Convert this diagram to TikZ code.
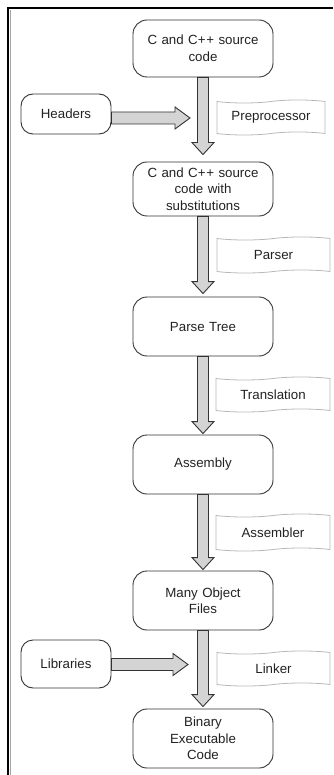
\documentclass[tikz,border=0pt]{standalone}
\usepackage{fontspec}
\setmainfont{Liberation Sans}
\usetikzlibrary{calc,shapes.symbols}
\definecolor{arrfill}{HTML}{D4D4D4}
\definecolor{edge}{HTML}{333333}
\definecolor{txt}{HTML}{222222}
\definecolor{tapeedge}{HTML}{B8B8B8}
\tikzset{
  mainbox/.style={draw=edge, line width=0.9pt, rounded corners=14pt, minimum width=140pt, minimum height=59pt, inner sep=0pt, align=center, text width=130pt, text=txt, font=\fontsize{13.3}{16.5}\selectfont},
  sidebox/.style={draw=edge, line width=0.9pt, rounded corners=12pt, minimum width=90pt, inner sep=0pt, align=center, text=txt, font=\fontsize{13.3}{16.5}\selectfont},
  stagelabel/.style={tape, draw=tapeedge, line width=0.8pt, tape bend top=in and out, tape bend bottom=in and out, tape bend height=3pt, minimum height=35pt, inner sep=0pt, text=txt, font=\fontsize{13.3}{16.5}\selectfont},
  blockarr/.style={draw=edge, fill=arrfill, line width=0.9pt, line join=miter},
}
\newcommand\vblockarrow[3]{%
  \draw[blockarr] let \p1=(#1.south), \p2=($(#2.north)+(0,-#3)$) in
    (\x1-5.5pt,\y1) -- (\x1-5.5pt,\y2+12pt) -- (\x1-11pt,\y2+12pt) -- (\x1,\y2)
    -- (\x1+11pt,\y2+12pt) -- (\x1+5.5pt,\y2+12pt) -- (\x1+5.5pt,\y1) -- cycle;}
\newcommand\hblockarrow[3]{%
  \draw[blockarr] let \p1=($(#1.east)+(0,#3)$), \p2=(#2) in
    (\x1,\y1+6pt) -- (\x2-15pt,\y1+6pt) -- (\x2-15pt,\y1+11pt) -- (\x2,\y1)
    -- (\x2-15pt,\y1-11pt) -- (\x2-15pt,\y1-6pt) -- (\x1,\y1-6pt) -- cycle;}
\begin{document}
\begin{tikzpicture}[x=1pt,y=-1pt]
\useasboundingbox (0,0) rectangle (333,775);
% frame
\draw[line width=2pt, black] (8,775) -- (8,8.5) -- (333,8.5);
\draw[line width=1pt, gray!70] (10,10) -- (10,775);

% main nodes
\node[mainbox, minimum height=57pt] (src) at (203,48.5) {C and C+\kern0.8pt+ source\\code};
\node[mainbox, minimum height=54pt] (subst) at (203,189) {C and C+\kern0.8pt+ source\\code with\\substitutions};
\node[mainbox] (parse) at (203,326.5) {Parse Tree};
\node[mainbox] (asm) at (203,464.5) {Assembly};
\node[mainbox] (obj) at (203,600.5) {Many Object\\Files};
\node[mainbox] (bin) at (203,738.5) {Binary\\Executable\\Code};

% side nodes
\node[sidebox, minimum height=40pt] (headers) at (66,114) {Headers};
\node[sidebox, minimum height=48pt] (libs) at (66,664) {Libraries};

% stage labels
\node[stagelabel, minimum width=108pt] (lpre) at (271,117.5) {Preprocessor};
\node[stagelabel, minimum width=113pt, minimum height=36pt] (lpar) at (273.5,255) {Parser};
\node[stagelabel, minimum width=114pt] (ltra) at (273,394.5) {Translation};
\node[stagelabel, minimum width=114pt, minimum height=37pt] (lasm) at (273,532.5) {Assembler};
\node[stagelabel, minimum width=113pt] (llnk) at (273.5,668.5) {Linker};

% arrow tips for side inputs
\coordinate (htip) at (190,118);
\coordinate (ltip) at (188,664.5);

% vertical block arrows
\vblockarrow{src}{subst}{7}
\vblockarrow{subst}{parse}{3}
\vblockarrow{parse}{asm}{1}
\vblockarrow{asm}{obj}{1}
\vblockarrow{obj}{bin}{2}

% horizontal block arrows
\hblockarrow{headers}{htip}{4}
\hblockarrow{libs}{ltip}{0.5}
\end{tikzpicture}
\end{document}
